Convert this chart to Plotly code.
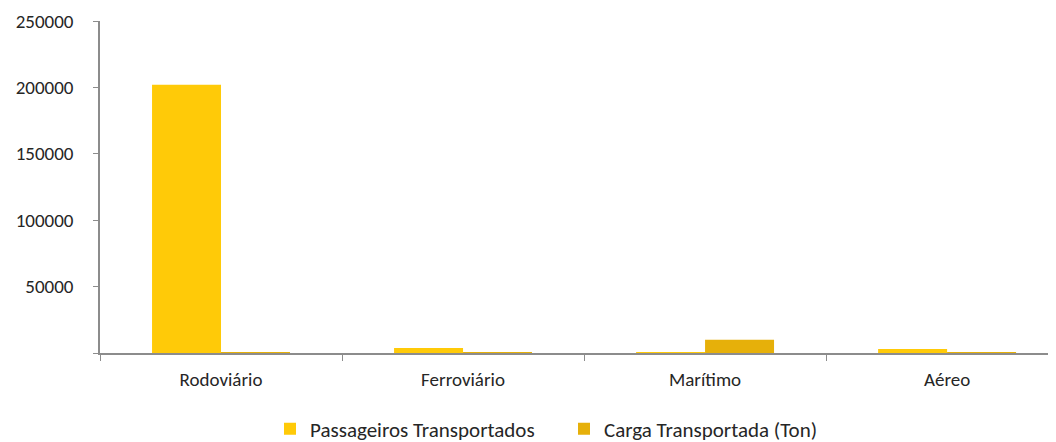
import plotly.graph_objects as go

categorias = ["Rodoviário", "Ferroviário", "Marítimo", "Aéreo"]
passageiros = [202000, 3800, 150, 3000]
carga = [150, 150, 10000, 100]
yticks = [0, 50000, 100000, 150000, 200000, 250000]
yticklabels = ["", "50000", "100000", "150000", "200000", "250000"]

fig = go.Figure()
fig.add_trace(go.Bar(x=categorias, y=passageiros, name="Passageiros Transportados",
                     marker=dict(color="#FFCA08", line=dict(width=0))))
fig.add_trace(go.Bar(x=categorias, y=carga, name="Carga Transportada (Ton)",
                     marker=dict(color="#E6B00A", line=dict(width=0))))

# page body has an 8px margin, so the figure is sized to fit the window
fig.update_layout(
    width=1048, height=434,
    margin=dict(l=92, r=0, t=13, b=89, autoexpand=False),
    paper_bgcolor="white", plot_bgcolor="white",
    barmode="group", bargap=0.43, bargroupgap=0,
    font=dict(family="Carlito, Calibri, Lato, sans-serif", size=16, color="#404040"),
    legend=dict(orientation="h", x=0.25, xanchor="left", xref="container",
                y=0.03, yanchor="middle", yref="container",
                font=dict(size=21, color="#262626"), itemwidth=30, traceorder="normal",
                entrywidth=249, entrywidthmode="pixels", tracegroupgap=0),
    showlegend=True,
)
fig.update_xaxes(
    range=[-0.5, 3.45], showline=True, linecolor="#8c8c8c", linewidth=1.5,
    ticks="outside", tickson="boundaries", ticklen=6, tickcolor="#8c8c8c",
    showgrid=False, zeroline=False, ticklabelstandoff=8, automargin=False,
    tickfont=dict(size=19, color="#262626"),
)
fig.update_yaxes(
    range=[0, 250000], tickvals=yticks, ticktext=yticklabels,
    showline=True, linecolor="#8c8c8c", linewidth=1.5,
    ticks="outside", ticklen=5, tickcolor="#8c8c8c",
    showgrid=False, zeroline=False, ticklabelstandoff=16, automargin=False,
    tickfont=dict(size=19, color="#262626"),
)

fig.write_html("out.html")
